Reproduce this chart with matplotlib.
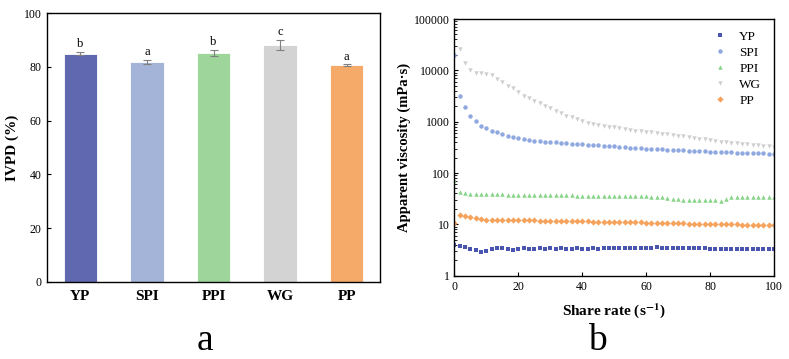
import numpy as np
import matplotlib
matplotlib.use("Agg")
import matplotlib.pyplot as plt
from matplotlib.ticker import FixedLocator, LogLocator, NullFormatter, FixedFormatter

plt.rcParams['font.family'] = ['Liberation Serif', 'DejaVu Serif']
plt.rcParams['mathtext.fontset'] = 'stix'

# ---- panel a data ----
categories = ["YP", "SPI", "PPI", "WG", "PP"]
ivpd = [85.0, 82.0, 85.2, 88.3, 80.6]
ivpd_err = [0.7, 0.7, 1.1, 1.8, 0.4]
sig_letters = ["b", "a", "b", "c", "a"]
bar_colors = ["#6068b0", "#a4b4d8", "#9dd59a", "#d3d3d3", "#f5aa6a"]

# ---- panel b data ----
shear_rate = [0.0, 1.67, 3.33, 5.0, 6.67, 8.33, 10.0, 11.67, 13.33, 15.0,
              16.67, 18.33, 20.0, 21.67, 23.33, 25.0, 26.67, 28.33, 30.0, 31.67,
              33.33, 35.0, 36.67, 38.33, 40.0, 41.67, 43.33, 45.0, 46.67, 48.33,
              50.0, 51.67, 53.33, 55.0, 56.67, 58.33, 60.0, 61.67, 63.33, 65.0,
              66.67, 68.33, 70.0, 71.67, 73.33, 75.0, 76.67, 78.33, 80.0, 81.67,
              83.33, 85.0, 86.67, 88.33, 90.0, 91.67, 93.33, 95.0, 96.67, 98.33, 100.0]
yp = [4.0, 3.75, 3.6, 3.25, 3.2, 2.95, 3.0, 3.3, 3.4, 3.4,
      3.3, 3.15, 3.35, 3.4, 3.3, 3.25, 3.4, 3.35, 3.4, 3.3,
      3.4, 3.35, 3.3, 3.4, 3.35, 3.35, 3.4, 3.3, 3.4, 3.4,
      3.4, 3.45, 3.4, 3.45, 3.5, 3.4, 3.45, 3.5, 3.55, 3.4,
      3.4, 3.4, 3.4, 3.4, 3.4, 3.4, 3.4, 3.4, 3.35, 3.35,
      3.35, 3.3, 3.3, 3.3, 3.3, 3.3, 3.3, 3.3, 3.3, 3.25, 3.25]
spi = [20000, 3200, 1900, 1290, 1010, 840, 745, 670, 620, 575,
       530, 500, 475, 455, 440, 426, 418, 410, 402, 395,
       388, 381, 375, 368, 362, 356, 350, 345, 339, 334,
       329, 324, 319, 314, 310, 304, 298, 295, 292, 289,
       286, 283, 280, 277, 274, 271, 268, 264, 261, 259,
       257, 255, 253, 251, 249, 247, 245, 243, 241, 240, 238]
ppi = [73, 42, 40.5, 39.5, 39, 38.8, 38.5, 38.5, 38.3, 38.2,
       38, 38, 38, 37.8, 37.6, 37.5, 37.5, 37.3, 37.2, 37,
       37, 36.8, 36.7, 36.5, 36.4, 36.3, 36.2, 36, 36, 35.8,
       35.7, 35.6, 35.5, 35.4, 35.3, 35.2, 35, 34.8, 34.5, 33.5,
       32, 31, 31.5, 30, 30, 30.5, 30.5, 30, 29.8, 29.8,
       29, 31.5, 33.5, 33.8, 33.8, 33.8, 33.7, 33.7, 33.6, 33.6, 33.5]
wg = [95000, 26000, 13700, 10000, 9000, 8800, 8500, 8000, 6700, 6000,
      4950, 4470, 3800, 3200, 2850, 2570, 2310, 2020, 1820, 1620,
      1450, 1320, 1210, 1110, 1030, 955, 900, 860, 835, 800,
      775, 740, 710, 690, 670, 655, 640, 620, 600, 585,
      565, 550, 530, 515, 500, 485, 470, 455, 440, 420,
      410, 400, 390, 380, 370, 362, 355, 347, 340, 333, 325]
pp = [10.8, 15.2, 14.6, 13.7, 13.1, 12.7, 12.4, 12.2, 12.0, 12.0,
      12.1, 12.0, 12.0, 12.0, 11.9, 11.9, 11.8, 11.8, 11.8, 11.7,
      11.7, 11.6, 11.6, 11.5, 11.5, 11.4, 11.3, 11.3, 11.2, 11.2,
      11.1, 11.1, 11.0, 11.0, 10.9, 10.9, 10.8, 10.8, 10.7, 10.7,
      10.6, 10.6, 10.5, 10.5, 10.4, 10.4, 10.3, 10.3, 10.2, 10.2,
      10.1, 10.1, 10.0, 10.0, 9.9, 9.9, 9.8, 9.8, 9.7, 9.7, 9.6]

series = [("YP", yp, "s", "#4a55b0"),
          ("SPI", spi, "o", "#8fa8df"),
          ("PPI", ppi, "^", "#88d488"),
          ("WG", wg, "v", "#cfcfcf"),
          ("PP", pp, "D", "#f4a25c")]

fig = plt.figure(figsize=(7.89, 3.59), dpi=100)

# ---------- panel a ----------
ax1 = fig.add_axes([0.0596, 0.2153, 0.422, 0.7476])
x = np.arange(len(categories))
ax1.bar(x, ivpd, width=0.5, color=bar_colors, edgecolor="white", linewidth=0.6,
        yerr=ivpd_err, capsize=3, error_kw=dict(ecolor="#808080", elinewidth=0.8, capthick=0.8))
for xi, v, e, s in zip(x, ivpd, ivpd_err, sig_letters):
    ax1.text(xi, v + e + 0.6, s, ha="center", va="bottom", fontsize=9)
ax1.set_ylim(0, 100)
ax1.set_xlim(-0.5, 4.5)
ax1.set_yticks([0, 20, 40, 60, 80, 100])
ax1.set_xticks(x)
ax1.set_xticklabels(categories, fontsize=11, fontweight="bold")
ax1.tick_params(axis="y", direction="in", length=3, labelsize=8.5, pad=4)
ax1.tick_params(axis="x", length=0, pad=6)
ax1.set_ylabel("IVPD (%)", fontsize=11, fontweight="bold", labelpad=3)
for sp in ax1.spines.values():
    sp.set_linewidth(1.0)
fig.text(205 / 789, 0.6 / 359, "a", fontsize=27, ha="center", va="bottom")

# ---------- panel b ----------
ax2 = fig.add_axes([0.5758, 0.232, 0.4052, 0.715])
for name, vals, mk, col in series:
    ax2.plot(shear_rate, vals, linestyle="none", marker=mk, markersize=3.2,
             color=col, markeredgewidth=0, label=name)
ax2.set_yscale("log")
ax2.set_ylim(1, 100000)
ax2.set_xlim(0, 100)
ax2.set_xticks([0, 20, 40, 60, 80, 100])
ax2.yaxis.set_major_locator(FixedLocator([1, 10, 100, 1000, 10000, 100000]))
ax2.yaxis.set_major_formatter(FixedFormatter(["1", "10", "100", "1000", "10000", "100000"]))
ax2.yaxis.set_minor_locator(LogLocator(base=10, subs=np.arange(2, 10)))
ax2.yaxis.set_minor_formatter(NullFormatter())
ax2.tick_params(axis="both", which="major", direction="in", length=3, labelsize=8.5)
ax2.tick_params(axis="y", which="minor", direction="in", length=1.8)
ax2.set_xlabel("Share rate (s$^{\\mathbf{-1}}$)", fontsize=11, fontweight="bold", labelpad=6)
ax2.set_ylabel("Apparent viscosity (mPa·s)", fontsize=10.5, fontweight="bold", labelpad=2)
leg = ax2.legend(loc="upper right", bbox_to_anchor=(0.985, 0.985), frameon=False,
                 fontsize=9.5, handlelength=0.8, handletextpad=1.1,
                 labelspacing=0.28, borderaxespad=0.2, markerscale=1.0)
for sp in ax2.spines.values():
    sp.set_linewidth(1.0)
fig.text(597 / 789, 0.6 / 359, "b", fontsize=27, ha="center", va="bottom")

fig.savefig("out.png", dpi=100)
